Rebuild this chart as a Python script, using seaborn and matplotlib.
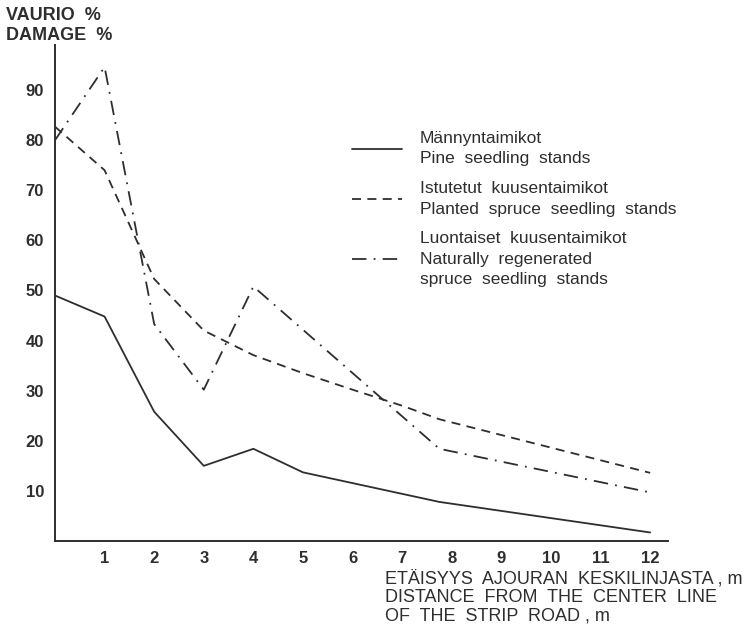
import numpy as np
import pandas as pd
import seaborn as sns
import matplotlib.pyplot as plt

# values
pine_x = [0, 1, 2, 3, 4, 5, 7.75, 12]
pine_y = [49, 44.8, 25.8, 15.0, 18.4, 13.7, 7.8, 1.7]

planted_x = [0, 1, 2, 3, 4, 5, 6, 7, 7.75, 12]
planted_y = [82.7, 74, 52.3, 42, 37.1, 33.5, 30.2, 27, 24.3, 13.6]

natural_x = [0, 1, 2, 3, 4, 7.75, 12]
natural_y = [80, 94.6, 43.3, 30.2, 50.8, 18.4, 9.7]

x_ticks = list(range(1, 13))
y_ticks = [10, 20, 30, 40, 50, 60, 70, 80, 90]

series_names = ['pine', 'planted', 'natural']
legend_labels = [
    'Männyntaimikot\nPine  seedling  stands',
    'Istutetut  kuusentaimikot\nPlanted  spruce  seedling  stands',
    'Luontaiset  kuusentaimikot\nNaturally  regenerated\nspruce  seedling  stands',
]

ink = '#2e2e2e'

df = pd.concat([
    pd.DataFrame({'x': pine_x, 'y': pine_y, 'series': 'pine'}),
    pd.DataFrame({'x': planted_x, 'y': planted_y, 'series': 'planted'}),
    pd.DataFrame({'x': natural_x, 'y': natural_y, 'series': 'natural'}),
])

sns.set_style('white')
plt.rcParams['font.family'] = ['Liberation Sans', 'DejaVu Sans']

fig = plt.figure(figsize=(7.54, 6.24), dpi=100)
ax = fig.add_axes([55 / 754, 1 - 541 / 624, 613 / 754, 496 / 624])

dash_styles = {'pine': '', 'planted': (5, 3.5), 'natural': (8, 4, 1, 4)}
sns.lineplot(data=df, x='x', y='y', style='series', style_order=series_names,
             dashes=dash_styles, color=ink, linewidth=1.3, legend=False,
             estimator=None, sort=False, ax=ax)

ax.set_xlim(0, 12.36)
ax.set_ylim(0, 99)
ax.set_xticks(x_ticks)
ax.set_yticks(y_ticks)
ax.set_xlabel('')
ax.set_ylabel('')
for s in ['top', 'right']:
    ax.spines[s].set_visible(False)
for s in ['left', 'bottom']:
    ax.spines[s].set_color(ink)
    ax.spines[s].set_linewidth(1.4)
ax.tick_params(axis='both', direction='out', length=5, width=1.3, colors=ink,
               labelsize=12, pad=3)
ax.tick_params(axis='x', pad=2)
for lab in ax.get_xticklabels() + ax.get_yticklabels():
    lab.set_fontweight('bold')

leg = ax.legend(handles=ax.lines[:3], labels=legend_labels, loc='upper left',
                bbox_to_anchor=(352 / 754, 1 - 131 / 624), bbox_transform=fig.transFigure,
                frameon=False, fontsize=12.5, handlelength=2.9, handletextpad=1.0,
                labelspacing=0.85, borderpad=0, borderaxespad=0, labelcolor=ink)
for t in leg.get_texts():
    t.set_linespacing(1.45)

fig.text(6 / 754, 1 - 7 / 624, 'VAURIO  %\nDAMAGE  %', ha='left', va='top',
         fontsize=13, fontweight='bold', color=ink, linespacing=1.2)
fig.text(385 / 754, 1 - 570 / 624,
         'ETÄISYYS  AJOURAN  KESKILINJASTA , m\nDISTANCE  FROM  THE  CENTER  LINE\nOF  THE  STRIP  ROAD , m',
         ha='left', va='top', fontsize=13, color=ink, linespacing=1.1)

fig.savefig('out.png', dpi=100, facecolor='white')
